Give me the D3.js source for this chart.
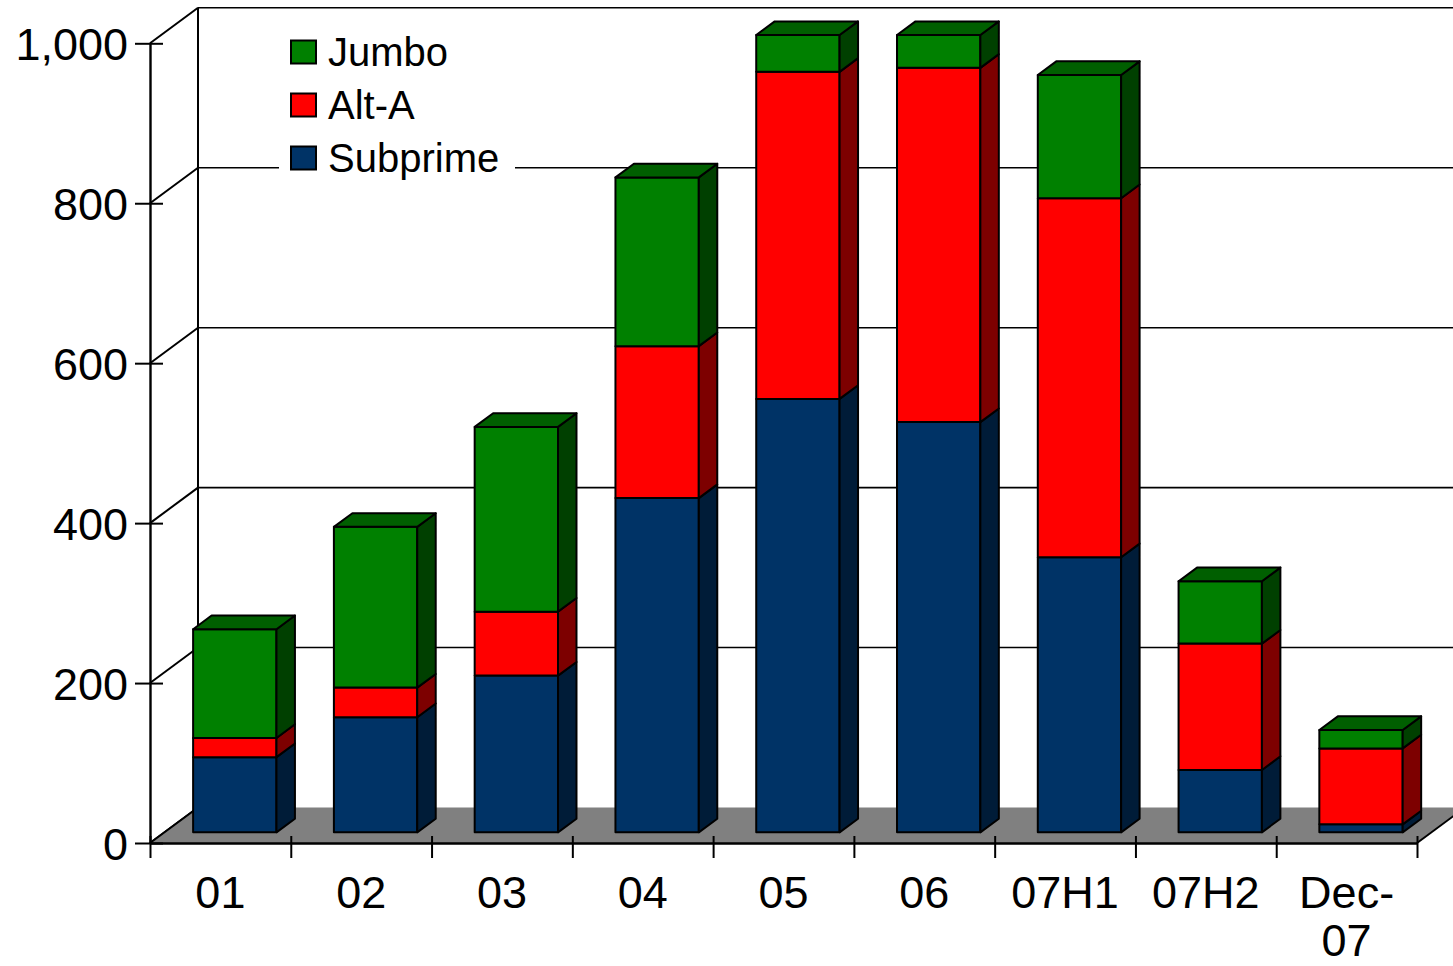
<!DOCTYPE html>
<html>
<head>
<meta charset="utf-8">
<script src="https://cdn.jsdelivr.net/npm/d3@7"></script>
<style>
  html, body { margin: 0; padding: 0; background: #fff; }
  svg { display: block; font-family: "Liberation Sans", Arial, sans-serif; }
</style>
</head>
<body>
<svg id="chart" width="1453" height="966"></svg>
<script>
// Non-agency mortgage securitisation by period, stacked by product type
const categories = ["01", "02", "03", "04", "05", "06", "07H1", "07H2", "Dec-07"];
const subprime = [94, 144, 196, 418, 542, 513, 344, 78, 10];
const altA = [24, 37, 80, 190, 409, 443, 449, 158, 95];
const jumbo = [136, 201, 231, 211, 46, 41, 154, 78, 23];
const yTicks = [0, 200, 400, 600, 800, 1000];
const seriesNames = ["Subprime", "Alt-A", "Jumbo"];
const legendOrder = ["Jumbo", "Alt-A", "Subprime"];

const colors = {
  "Subprime": { front: "#003366", side: "#001c38", top: "#00264d" },
  "Alt-A":    { front: "#ff0000", side: "#7d0000", top: "#c00000" },
  "Jumbo":    { front: "#008000", side: "#004000", top: "#005f00" }
};

const rows = categories.map((c, i) => ({
  cat: c, "Subprime": subprime[i], "Alt-A": altA[i], "Jumbo": jumbo[i]
}));
const stacked = d3.stack().keys(seriesNames)(rows);

const svg = d3.select("#chart");
const W = 1453;

// front plane of the 3-D box
const x0 = 150, x1 = 1417;
const x = d3.scaleBand().domain(categories).range([x0, x1])
  .paddingInner(0.408).paddingOuter(0.204);
const y = d3.scaleLinear().domain([0, 1000]).range([843, 43.3]);

// oblique depth of the whole box, and where the bars sit inside it
const depth = { dx: 48, dy: -35.5 };
const f0 = 0.30, f1 = 0.685;
const off = f => [f * depth.dx, f * depth.dy];

const line = (g, xa, ya, xb, yb, w) => g.append("line")
  .attr("x1", xa).attr("y1", ya).attr("x2", xb).attr("y2", yb)
  .attr("stroke", "#000").attr("stroke-width", w);

// back wall, left wall diagonals and gridlines
const wall = svg.append("g");
line(wall, x0 + depth.dx, y(1000) + depth.dy, x0 + depth.dx, y(0) + depth.dy, 2);
yTicks.forEach(t => {
  line(wall, x0, y(t), x0 + depth.dx, y(t) + depth.dy, 2);
  if (t > 0) line(wall, x0 + depth.dx, y(t) + depth.dy, W + 20, y(t) + depth.dy, 1.6);
});

// floor
svg.append("path")
  .attr("d", d3.line()([
    [x0, y(0)], [x1, y(0)], [x1 + depth.dx, y(0) + depth.dy], [x0 + depth.dx, y(0) + depth.dy]
  ]) + "Z")
  .attr("fill", "#808080");
line(svg, x1, y(0), x1 + depth.dx, y(0) + depth.dy, 2);
line(svg, x0, y(0), x0 + depth.dx, y(0) + depth.dy, 2);

// legend
const legend = svg.append("g");
legend.append("rect").attr("x", 279).attr("y", 26).attr("width", 236).attr("height", 156).attr("fill", "#fff");
legendOrder.forEach((name, i) => {
  const cy = 52 + i * 53;
  legend.append("rect")
    .attr("x", 291).attr("y", cy - 11.5).attr("width", 25).attr("height", 23)
    .attr("fill", colors[name].front).attr("stroke", "#000").attr("stroke-width", 2);
  legend.append("text")
    .attr("x", 328).attr("y", cy).attr("dy", "0.36em")
    .attr("font-size", 40).attr("fill", "#000").text(name);
});

// bars
const [bx, by] = off(f0);
const [ex, ey] = off(f1);
const ddx = ex - bx, ddy = ey - by;
const bars = svg.append("g");
categories.forEach((c, i) => {
  const xl = x(c) + bx, xr = xl + x.bandwidth();
  const g = bars.append("g");
  stacked.forEach((layer, li) => {
    const name = layer.key;
    const [v0, v1] = layer[i];
    if (v1 <= v0) return;
    const yb = y(v0) + by, yt = y(v1) + by;
    g.append("rect")
      .attr("x", xl).attr("y", yt).attr("width", xr - xl).attr("height", yb - yt)
      .attr("fill", colors[name].front).attr("stroke", "#000").attr("stroke-width", 2)
      .attr("stroke-linejoin", "round");
    g.append("path")
      .attr("d", d3.line()([[xr, yb], [xr + ddx, yb + ddy], [xr + ddx, yt + ddy], [xr, yt]]) + "Z")
      .attr("fill", colors[name].side).attr("stroke", "#000").attr("stroke-width", 2)
      .attr("stroke-linejoin", "round");
    if (li === stacked.length - 1) {
      g.append("path")
        .attr("d", d3.line()([[xl, yt], [xl + ddx, yt + ddy], [xr + ddx, yt + ddy], [xr, yt]]) + "Z")
        .attr("fill", colors[name].top).attr("stroke", "#000").attr("stroke-width", 2)
        .attr("stroke-linejoin", "round");
    }
  });
});

// value axis
const yAxis = svg.append("g").attr("transform", `translate(${x0},0)`)
  .call(d3.axisLeft(y).tickValues(yTicks).tickFormat(d3.format(",")).tickSizeOuter(0).tickSizeInner(15).tickPadding(8));
yAxis.select(".domain").attr("stroke", "#000").attr("stroke-width", 2.4);
yAxis.selectAll(".tick line").attr("x1", 13).attr("x2", -15).attr("stroke-width", 2);
yAxis.selectAll(".tick text")
  .attr("font-size", 45).attr("font-family", "'Liberation Sans', Arial, sans-serif")
  .attr("fill", "#000").attr("dy", "0.36em").attr("x", -22);

// category axis: tick marks on band edges, labels centred on bands
const edge = d3.scaleLinear().domain([0, categories.length]).range([x0, x1]);
const xTicks = svg.append("g").attr("transform", `translate(0,${y(0)})`)
  .call(d3.axisBottom(edge).tickValues(d3.range(categories.length + 1)).tickFormat("").tickSizeOuter(0).tickSizeInner(15));
xTicks.select(".domain").attr("stroke", "#000").attr("stroke-width", 2.4);
xTicks.selectAll(".tick line").attr("y1", -7).attr("y2", 15).attr("stroke-width", 2);

const xLabels = svg.append("g").attr("transform", `translate(0,${y(0)})`)
  .call(d3.axisBottom(x).tickSize(0).tickPadding(33));
xLabels.select(".domain").remove();
xLabels.selectAll(".tick text")
  .attr("font-size", 45).attr("font-family", "'Liberation Sans', Arial, sans-serif").attr("fill", "#000")
  .each(function (d) {
    const t = d3.select(this);
    const parts = d.length > 4 ? d.split(/(?<=-)/) : [d];
    t.text(null);
    parts.forEach((p, k) => {
      t.append("tspan").attr("x", 0).attr("dy", k === 0 ? "0.71em" : "1.07em").text(p);
    });
    t.attr("dy", null);
  });
</script>
</body>
</html>
